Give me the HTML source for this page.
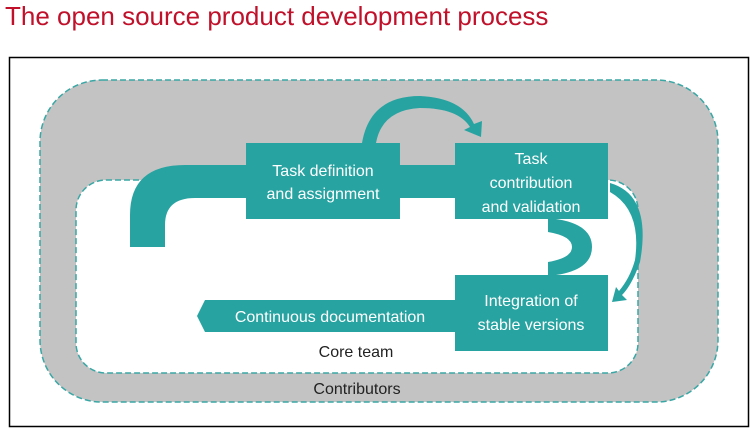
<!DOCTYPE html>
<html><head><style>
body{margin:0;width:756px;height:439px;background:#fff;position:relative;overflow:hidden;font-family:"Liberation Sans",sans-serif}
.t{position:absolute;left:5px;top:1px;color:#c0102a;font-size:26px}
</style></head><body>
<div class="t">The open source product development process</div>
<svg width="756" height="439" style="position:absolute;left:0;top:0">
<rect x="9.5" y="57.5" width="739" height="369" fill="none" stroke="#000" stroke-width="1.5"/>
<rect x="40" y="80" width="678" height="322" rx="62" fill="#c3c3c3" stroke="#3aa7a5" stroke-width="1.5" stroke-dasharray="6,3"/>
<rect x="76" y="180" width="562" height="193" rx="30" fill="#fff" stroke="#3aa7a5" stroke-width="1.5" stroke-dasharray="6,3"/>
<g fill="#27a3a1">
<path d="M130 247 L130 215 Q130 165 185 165 L255 165 L255 198 L195 198 Q165 198 165 225 L165 247 Z"/>
<rect x="398" y="165" width="60" height="33"/>
<path d="M548 218 Q592 222 592 247 Q592 272 548 276 L548 262 Q572 258 572 247 Q572 236 548 232 Z"/>
<rect x="246" y="143" width="154" height="76"/>
<rect x="455" y="143" width="153" height="76"/>
<rect x="455" y="275" width="153" height="76"/>
<path d="M197 316 L205 300 L456 300 L456 332 L205 332 Z"/>
<path d="M362 143 Q370 96 420 96 Q462 98 474 124 L482 121 L481 137 L464 130 L470 127 Q458 108 420 108 Q382 110 376 143 Z"/>
<path d="M610 183 Q652 195 640 262 Q632 285 622 295 L627 300 L612 302 L616 287 L619 291 Q630 278 635 260 Q642 210 610 192 Z"/>
</g>
<g fill="#fff" font-size="16" text-anchor="middle">
<text x="323" y="176">Task definition</text>
<text x="323" y="199">and assignment</text>
<text x="531" y="164">Task</text>
<text x="531" y="188">contribution</text>
<text x="531" y="212">and validation</text>
<text x="531" y="306">Integration of</text>
<text x="531" y="330">stable versions</text>
<text x="330" y="322">Continuous documentation</text>
</g>
<g fill="#222" font-size="16" text-anchor="middle">
<text x="356" y="357">Core team</text>
<text x="357" y="394">Contributors</text>
</g>
</svg>
</body></html>
